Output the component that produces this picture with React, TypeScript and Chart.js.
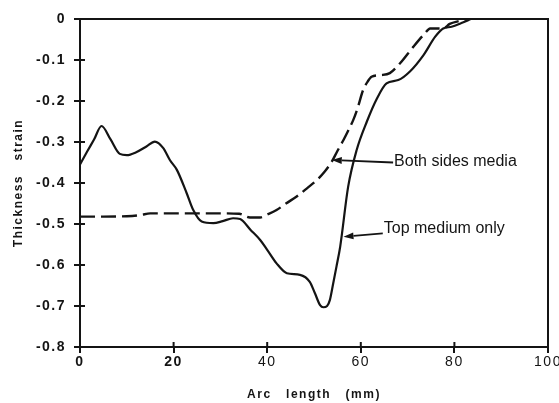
import { useEffect, useRef } from 'react';
import { Chart, registerables } from 'chart.js';

Chart.register(...registerables);

// Axis ticks
const xTicks = [0, 20, 40, 60, 80, 100];
const xTickLabels = ['0', '20', '40', '60', '80', '100'];
const yTicks = [0, -0.1, -0.2, -0.3, -0.4, -0.5, -0.6, -0.7, -0.8];
const yTickLabels = ['0', '-0.1', '-0.2', '-0.3', '-0.4', '-0.5', '-0.6', '-0.7', '-0.8'];

// Top medium only (solid)
const topMediumX = [0, 1.5, 3, 4.6, 6.5, 8.5, 10, 12, 14.2, 16, 17.8, 19.2, 20.7, 22.8, 24.2, 26, 28.5, 30.5, 32.7, 34.2, 36.5, 38.5, 40, 42, 44.2, 47, 49.1, 50.2, 51.3, 52, 52.8, 53.4, 54.1, 54.8, 55.6, 57.3, 59.1, 61.3, 63.4, 65.5, 68, 70.5, 73.4, 75.9, 77.6, 79.4, 81.5, 83.5];
const topMediumY = [-0.355, -0.324, -0.294, -0.261, -0.293, -0.329, -0.332, -0.325, -0.311, -0.299, -0.315, -0.344, -0.368, -0.425, -0.466, -0.494, -0.498, -0.493, -0.486, -0.488, -0.515, -0.539, -0.563, -0.596, -0.62, -0.624, -0.641, -0.669, -0.698, -0.703, -0.7, -0.685, -0.645, -0.604, -0.555, -0.409, -0.32, -0.25, -0.195, -0.157, -0.149, -0.128, -0.088, -0.043, -0.023, -0.019, -0.01, 0];

// Both sides media (dashed)
const bothSidesX = [0, 5, 10, 13, 15, 20, 25, 30, 34, 36.3, 38.5, 40, 42, 44, 46.3, 48.5, 50.6, 52.3, 53.8, 55, 56.3, 57.4, 58.4, 59.3, 60.5, 61.5, 62.3, 64.1, 66.2, 68.4, 71.2, 73.7, 74.8, 77.6, 79, 81, 83];
const bothSidesY = [-0.482, -0.482, -0.481, -0.478, -0.474, -0.474, -0.474, -0.474, -0.475, -0.484, -0.484, -0.477, -0.466, -0.45, -0.433, -0.413, -0.393, -0.372, -0.348, -0.322, -0.295, -0.27, -0.246, -0.218, -0.173, -0.152, -0.141, -0.137, -0.132, -0.108, -0.068, -0.035, -0.023, -0.023, -0.012, -0.005, 0];

// Callouts: label, text anchor, arrow start and arrow tip (data units)
const calloutLabels = ['Both sides media', 'Top medium only'];
const calloutTextX = [66.9, 64.7];
const calloutTextY = [-0.348, -0.51];
const calloutLineY = [-0.35, -0.523];
const calloutTipX = [53.8, 56.3];
const calloutTipY = [-0.344, -0.531];

const INK = '#141414';
const FONT = '"Liberation Sans", Arial, Helvetica, sans-serif';

const toPoints = (xs: number[], ys: number[]) => xs.map((x, i) => ({ x, y: ys[i] }));

const paperPlugin = {
  id: 'paper',
  beforeDraw(chart: any) {
    const ctx = chart.ctx;
    ctx.save();
    ctx.fillStyle = '#ffffff';
    ctx.fillRect(0, 0, chart.width, chart.height);
    // spaced-out lettering for the axis texts
    ctx.letterSpacing = '1.5px';
  },
  beforeDatasetsDraw(chart: any) {
    chart.ctx.restore();
  },
  afterDatasetsDraw(chart: any) {
    const ctx = chart.ctx;
    const { left, right, top, bottom } = chart.chartArea;
    const xs = chart.scales.x;
    const ys = chart.scales.y;
    ctx.save();
    ctx.strokeStyle = INK;
    ctx.lineWidth = 2;
    // top and right frame
    ctx.beginPath();
    ctx.moveTo(left, top);
    ctx.lineTo(right, top);
    ctx.lineTo(right, bottom);
    ctx.stroke();
    // inner halves of tick marks
    ctx.beginPath();
    xs.ticks.forEach((t: any) => {
      if (t.value <= 0 || t.value >= 100) return;
      const px = xs.getPixelForValue(t.value);
      ctx.moveTo(px, bottom);
      ctx.lineTo(px, bottom - 5);
    });
    ys.ticks.forEach((t: any) => {
      if (t.value >= 0 || t.value <= -0.8) return;
      const py = ys.getPixelForValue(t.value);
      ctx.moveTo(left, py);
      ctx.lineTo(left + 5, py);
    });
    ctx.stroke();

    // callouts with arrows
    ctx.font = `16px ${FONT}`;
    ctx.fillStyle = INK;
    ctx.textBaseline = 'middle';
    ctx.textAlign = 'left';
    ctx.lineWidth = 1.8;
    calloutLabels.forEach((label, i) => {
      const tx = xs.getPixelForValue(calloutTextX[i]);
      const ty = ys.getPixelForValue(calloutTextY[i]);
      const ly = ys.getPixelForValue(calloutLineY[i]);
      const ax = xs.getPixelForValue(calloutTipX[i]);
      const ay = ys.getPixelForValue(calloutTipY[i]);
      ctx.fillText(label, tx + 1, ty);
      const ang = Math.atan2(ay - ly, ax - tx);
      const headLen = 10;
      const bx = ax - headLen * Math.cos(ang);
      const by = ay - headLen * Math.sin(ang);
      ctx.beginPath();
      ctx.moveTo(tx, ly);
      ctx.lineTo(bx, by);
      ctx.stroke();
      ctx.beginPath();
      ctx.moveTo(ax, ay);
      ctx.lineTo(bx - 3.5 * Math.sin(ang), by + 3.5 * Math.cos(ang));
      ctx.lineTo(bx + 3.5 * Math.sin(ang), by - 3.5 * Math.cos(ang));
      ctx.closePath();
      ctx.fill();
    });
    ctx.restore();
  },
};

export default function App() {
  const canvasRef = useRef<HTMLCanvasElement | null>(null);

  useEffect(() => {
    const canvas = canvasRef.current;
    if (!canvas) return;
    const chart = new Chart(canvas, {
      type: 'line',
      data: {
        datasets: [
          {
            label: 'Top medium only',
            data: toPoints(topMediumX, topMediumY),
            borderColor: INK,
            borderWidth: 2.2,
            pointRadius: 0,
            fill: false,
            cubicInterpolationMode: 'monotone',
          },
          {
            label: 'Both sides media',
            data: toPoints(bothSidesX, bothSidesY),
            borderColor: INK,
            borderWidth: 2.4,
            borderDash: [15, 6],
            pointRadius: 0,
            fill: false,
            cubicInterpolationMode: 'monotone',
          },
        ],
      },
      options: {
        animation: false,
        responsive: false,
        devicePixelRatio: 1,
        layout: { padding: { top: 19, right: 11, left: 0, bottom: 0 } },
        plugins: {
          legend: { display: false },
          tooltip: { enabled: false },
        },
        scales: {
          x: {
            type: 'linear',
            min: 0,
            max: 100,
            afterBuildTicks: (s: any) => {
              s.ticks = xTicks.map((v) => ({ value: v }));
            },
            afterFit: (s: any) => {
              s.height = 56;
              s.paddingLeft = 0;
              s.paddingRight = 0;
            },
            grid: {
              drawOnChartArea: false,
              drawTicks: true,
              tickLength: 6,
              color: INK,
              lineWidth: 2,
            },
            border: { display: true, color: INK, width: 2 },
            ticks: {
              color: INK,
              padding: 1,
              maxRotation: 0,
              autoSkip: false,
              font: (c: any) => ({
                family: FONT,
                size: 14,
                weight: c.tick && c.tick.value < 40 ? 'bold' : 'normal',
              }),
              callback: (v: any) => {
                const i = xTicks.indexOf(Number(v));
                return i >= 0 ? xTickLabels[i] : '';
              },
            },
            title: {
              display: true,
              text: 'Arc   length   (mm)',
              color: INK,
              font: { family: FONT, size: 12, weight: 'bold' },
              padding: { top: 0, bottom: 1 },
            },
          },
          y: {
            type: 'linear',
            min: -0.8,
            max: 0,
            afterBuildTicks: (s: any) => {
              s.ticks = yTicks.map((v) => ({ value: v }));
            },
            afterFit: (s: any) => {
              s.width = 80;
              s.paddingTop = 0;
              s.paddingBottom = 0;
            },
            grid: {
              drawOnChartArea: false,
              drawTicks: true,
              tickLength: 6,
              color: INK,
              lineWidth: 2,
            },
            border: { display: true, color: INK, width: 2 },
            ticks: {
              color: INK,
              padding: 8,
              autoSkip: false,
              font: { family: FONT, size: 14, weight: 'bold' },
              callback: (v: any) => {
                const i = yTicks.findIndex((t) => Math.abs(t - Number(v)) < 1e-6);
                return i >= 0 ? yTickLabels[i] : '';
              },
            },
            title: {
              display: true,
              text: 'Thickness   strain',
              color: INK,
              font: { family: FONT, size: 12, weight: 'bold' },
              padding: { top: 11, bottom: 0 },
            },
          },
        },
      },
      plugins: [paperPlugin],
    } as any);
    return () => chart.destroy();
  }, []);

  return (
    <div style={{ position: 'fixed', left: 0, top: 0, width: 559, height: 403, background: '#fff' }}>
      <canvas ref={canvasRef} width={559} height={403} style={{ display: 'block', width: 559, height: 403 }} />
    </div>
  );
}
